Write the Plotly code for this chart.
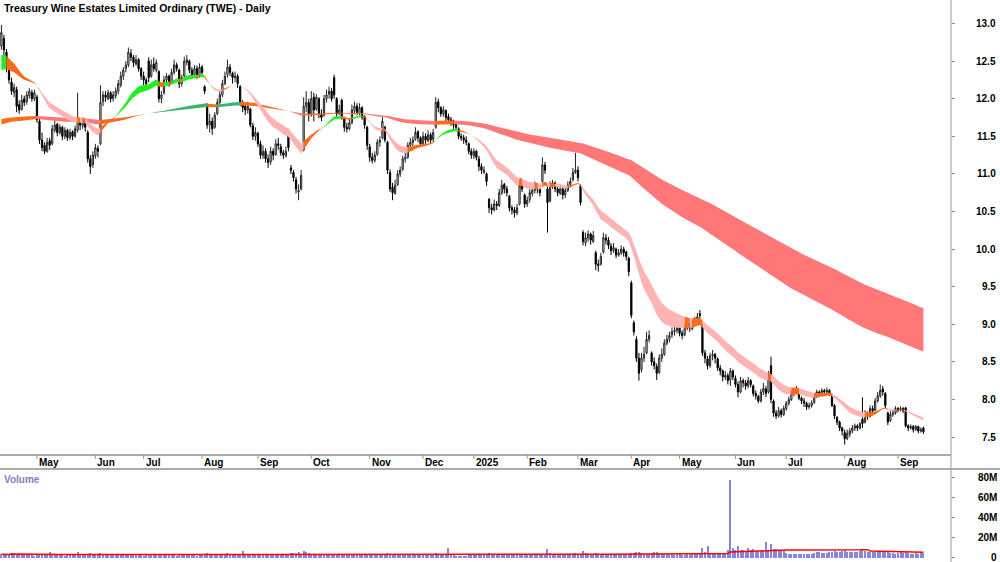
import numpy as np
import pandas as pd
import plotly.graph_objects as go

# ---------------- data ----------------
title_text = "Treasury Wine Estates Limited Ordinary (TWE) - Daily"
start_date = "2024-04-10"
end_date = "2025-09-15"
asx_holidays = ["2024-04-25", "2024-06-10", "2024-12-25", "2024-12-26", "2025-01-01",
                "2025-01-27", "2025-04-18", "2025-04-21", "2025-04-25", "2025-06-09"]

opens = [
    12.70, 12.80, 12.62, 12.38, 12.22, 12.08, 12.12, 11.92, 11.86, 12.00,
    11.96, 12.04, 12.08, 12.00, 12.02, 11.70, 11.45, 11.38, 11.30, 11.44,
    11.40, 11.58, 11.66, 11.55, 11.62, 11.50, 11.58, 11.48, 11.56, 11.50,
    11.58, 11.70, 11.64, 11.70, 11.55, 11.20, 11.12, 11.24, 11.34, 11.40,
    11.96, 12.05, 12.00, 12.08, 12.00, 12.04, 12.10, 12.18, 12.30, 12.40,
    12.45, 12.60, 12.55, 12.46, 12.52, 12.40, 12.30, 12.25, 12.50, 12.30,
    12.46, 12.38, 12.36, 12.00, 12.08, 12.25, 12.30, 12.22, 12.35, 12.45,
    12.38, 12.20, 12.30, 12.48, 12.50, 12.38, 12.32, 12.40, 12.30, 12.42,
    12.16, 11.92, 11.65, 11.70, 11.62, 11.80, 11.95, 12.05, 12.20, 12.32,
    12.42, 12.34, 12.28, 12.30, 12.16, 11.94, 11.90, 11.85, 11.86, 11.64,
    11.50, 11.54, 11.40, 11.24, 11.30, 11.20, 11.16, 11.30, 11.26, 11.40,
    11.36, 11.28, 11.24, 11.56, 11.08, 11.02, 10.92, 10.76, 10.80, 11.32,
    11.90, 11.95, 11.80, 12.02, 11.86, 12.00, 11.80, 11.78, 12.00, 12.06,
    12.10, 12.28, 12.00, 11.80, 11.98, 11.74, 11.62, 11.60, 11.68, 11.84,
    11.90, 11.80, 11.88, 11.76, 11.62, 11.36, 11.22, 11.18, 11.26, 11.42,
    11.48, 11.62, 11.42, 11.02, 10.82, 10.74, 10.86, 11.00, 11.06, 11.20,
    11.22, 11.38, 11.42, 11.46, 11.56, 11.48, 11.40, 11.50, 11.44, 11.52,
    11.46, 11.62, 11.96, 11.88, 11.80, 11.84, 11.76, 11.72, 11.68, 11.66,
    11.60, 11.50, 11.48, 11.45, 11.40, 11.30, 11.24, 11.30, 11.20, 11.10,
    11.02, 11.00, 10.66, 10.55, 10.52, 10.60, 10.58, 10.75, 10.86, 10.80,
    10.70, 10.55, 10.52, 10.48, 10.60, 10.86, 10.72, 10.60, 10.66, 10.74,
    10.78, 10.84, 10.80, 10.90, 11.12, 10.80, 10.64, 10.85, 10.88, 10.80,
    10.74, 10.80, 10.72, 10.78, 10.86, 10.92, 11.02, 11.05, 10.84, 10.22,
    10.08, 10.15, 10.20, 10.10, 9.95, 9.80, 9.80, 9.96, 10.15, 10.12,
    10.04, 9.98, 10.00, 9.92, 9.95, 10.00, 9.96, 9.88, 9.55, 9.02,
    8.80, 8.55, 8.40, 8.55, 8.62, 8.80, 8.62, 8.50, 8.44, 8.36,
    8.55, 8.60, 8.75, 8.80, 8.86, 8.90, 8.92, 8.95, 8.88, 8.86,
    8.95, 9.00, 8.94, 9.02, 9.05, 9.14, 8.98, 8.62, 8.54, 8.45,
    8.58, 8.60, 8.54, 8.42, 8.38, 8.30, 8.32, 8.26, 8.38, 8.28,
    8.20, 8.10, 8.25, 8.22, 8.18, 8.25, 8.18, 8.08, 8.04, 7.98,
    8.10, 8.14, 8.10, 8.45, 7.98, 7.82, 7.78, 7.85, 7.80, 7.88,
    7.95, 8.00, 8.08, 8.10, 8.12, 8.02, 7.98, 7.95, 7.90, 7.92,
    7.96, 8.05, 8.10, 8.08, 8.12, 8.10, 8.12, 8.06, 7.92, 7.76,
    7.70, 7.62, 7.56, 7.48, 7.54, 7.58, 7.62, 7.65, 7.62, 7.74,
    7.70, 7.80, 7.78, 7.88, 7.86, 7.98, 8.05, 8.14, 8.08, 7.82,
    7.72, 7.80, 7.82, 7.88, 7.86, 7.88, 7.89, 7.65, 7.62, 7.64,
    7.60, 7.64, 7.58, 7.62,
]

highs = [
    12.98, 12.85, 12.66, 12.45, 12.28, 12.20, 12.16, 11.98, 12.05, 12.04,
    12.10, 12.14, 12.12, 12.12, 12.05, 11.74, 11.55, 11.42, 11.48, 11.48,
    11.65, 11.72, 11.68, 11.66, 11.64, 11.62, 11.60, 11.60, 11.58, 11.64,
    12.08, 11.74, 11.75, 11.72, 11.58, 11.25, 11.30, 11.40, 11.38, 12.18,
    12.10, 12.10, 12.12, 12.10, 12.10, 12.15, 12.25, 12.36, 12.42, 12.50,
    12.68, 12.66, 12.58, 12.58, 12.54, 12.42, 12.36, 12.28, 12.55, 12.52,
    12.55, 12.52, 12.38, 12.10, 12.30, 12.34, 12.32, 12.40, 12.52, 12.48,
    12.40, 12.32, 12.56, 12.58, 12.52, 12.42, 12.45, 12.44, 12.47, 12.45,
    12.18, 11.94, 11.80, 11.75, 11.82, 12.00, 12.10, 12.25, 12.36, 12.52,
    12.46, 12.36, 12.36, 12.33, 12.18, 11.98, 11.94, 11.96, 11.88, 11.68,
    11.62, 11.56, 11.44, 11.38, 11.34, 11.26, 11.36, 11.34, 11.46, 11.48,
    11.40, 11.32, 11.36, 11.60, 11.12, 11.05, 10.96, 10.86, 11.05, 12.02,
    12.10, 12.00, 12.10, 12.08, 12.06, 12.02, 11.86, 12.05, 12.12, 12.16,
    12.14, 12.32, 12.02, 11.92, 12.00, 11.76, 11.68, 11.74, 11.92, 11.96,
    11.94, 11.94, 11.90, 11.78, 11.64, 11.40, 11.28, 11.30, 11.46, 11.50,
    11.76, 11.64, 11.44, 11.06, 10.88, 10.92, 11.05, 11.10, 11.24, 11.28,
    11.42, 11.48, 11.50, 11.62, 11.58, 11.50, 11.56, 11.54, 11.58, 11.55,
    11.60, 12.02, 12.00, 11.90, 11.90, 11.86, 11.80, 11.76, 11.72, 11.70,
    11.62, 11.54, 11.52, 11.50, 11.42, 11.34, 11.34, 11.32, 11.24, 11.14,
    11.10, 11.02, 10.68, 10.60, 10.66, 10.64, 10.80, 10.92, 10.88, 10.84,
    10.72, 10.58, 10.56, 10.60, 10.92, 10.90, 10.74, 10.70, 10.80, 10.84,
    10.90, 10.88, 10.84, 11.22, 11.16, 10.84, 10.90, 10.92, 10.90, 10.84,
    10.86, 10.82, 10.82, 10.90, 10.95, 11.08, 11.28, 11.10, 10.86, 10.25,
    10.22, 10.25, 10.22, 10.24, 9.98, 9.86, 9.95, 10.22, 10.20, 10.16,
    10.08, 10.08, 10.02, 10.00, 10.05, 10.03, 9.98, 9.90, 9.58, 9.05,
    8.84, 8.62, 8.62, 8.70, 8.90, 8.92, 8.64, 8.56, 8.48, 8.60,
    8.68, 8.80, 8.86, 8.90, 8.96, 8.98, 9.02, 8.98, 8.92, 9.00,
    9.06, 9.02, 9.06, 9.10, 9.15, 9.19, 9.00, 8.66, 8.58, 8.62,
    8.66, 8.62, 8.56, 8.46, 8.40, 8.38, 8.35, 8.42, 8.40, 8.32,
    8.24, 8.30, 8.28, 8.26, 8.30, 8.27, 8.20, 8.12, 8.06, 8.14,
    8.22, 8.18, 8.38, 8.57, 8.00, 7.86, 7.90, 7.88, 7.92, 7.98,
    8.04, 8.12, 8.14, 8.18, 8.14, 8.04, 8.02, 7.97, 7.96, 7.99,
    8.08, 8.13, 8.12, 8.15, 8.14, 8.16, 8.14, 8.08, 7.94, 7.78,
    7.72, 7.64, 7.60, 7.60, 7.62, 7.66, 7.68, 7.67, 7.70, 8.03,
    7.86, 7.84, 7.92, 7.92, 8.02, 8.10, 8.20, 8.18, 8.10, 7.84,
    7.85, 7.86, 7.91, 7.90, 7.91, 7.90, 7.90, 7.67, 7.67, 7.66,
    7.66, 7.65, 7.63, 7.64,
]

lows = [
    12.65, 12.58, 12.35, 12.20, 12.05, 12.02, 11.82, 11.80, 11.84, 11.90,
    11.92, 12.00, 11.96, 11.97, 11.68, 11.40, 11.30, 11.26, 11.28, 11.32,
    11.38, 11.55, 11.50, 11.52, 11.45, 11.46, 11.44, 11.45, 11.45, 11.48,
    11.55, 11.58, 11.60, 11.56, 11.15, 11.00, 11.08, 11.20, 11.22, 11.38,
    11.90, 11.96, 11.98, 11.95, 11.96, 12.00, 12.06, 12.15, 12.25, 12.35,
    12.42, 12.50, 12.42, 12.44, 12.36, 12.25, 12.18, 12.15, 12.22, 12.28,
    12.36, 12.35, 11.95, 11.94, 12.05, 12.20, 12.16, 12.20, 12.32, 12.36,
    12.14, 12.16, 12.28, 12.44, 12.34, 12.26, 12.30, 12.26, 12.28, 12.30,
    12.06, 11.60, 11.55, 11.52, 11.60, 11.78, 11.92, 12.02, 12.18, 12.28,
    12.30, 12.20, 12.22, 12.14, 11.90, 11.82, 11.78, 11.80, 11.62, 11.45,
    11.44, 11.36, 11.20, 11.20, 11.15, 11.08, 11.12, 11.18, 11.24, 11.32,
    11.24, 11.20, 11.22, 11.30, 11.00, 10.90, 10.74, 10.65, 10.78, 11.30,
    11.82, 11.70, 11.76, 11.70, 11.84, 11.74, 11.70, 11.76, 11.95, 12.00,
    11.96, 12.00, 11.76, 11.78, 11.72, 11.56, 11.55, 11.58, 11.66, 11.80,
    11.78, 11.78, 11.72, 11.60, 11.32, 11.16, 11.14, 11.15, 11.24, 11.36,
    11.46, 11.42, 11.00, 10.76, 10.65, 10.72, 10.84, 10.96, 11.04, 11.15,
    11.20, 11.34, 11.36, 11.44, 11.42, 11.36, 11.38, 11.40, 11.42, 11.40,
    11.42, 11.60, 11.82, 11.76, 11.76, 11.70, 11.68, 11.64, 11.60, 11.58,
    11.46, 11.44, 11.40, 11.38, 11.26, 11.20, 11.20, 11.18, 11.04, 11.00,
    11.00, 10.84, 10.48, 10.46, 10.50, 10.52, 10.56, 10.72, 10.74, 10.70,
    10.50, 10.46, 10.42, 10.45, 10.58, 10.76, 10.55, 10.56, 10.62, 10.70,
    10.74, 10.74, 10.70, 10.88, 11.00, 10.22, 10.62, 10.80, 10.76, 10.70,
    10.72, 10.66, 10.68, 10.76, 10.82, 10.90, 11.00, 10.90, 10.58, 10.05,
    10.04, 10.10, 10.06, 10.08, 9.72, 9.70, 9.78, 9.94, 10.06, 10.00,
    9.92, 9.95, 9.88, 9.90, 9.92, 9.90, 9.85, 9.64, 9.08, 8.85,
    8.50, 8.25, 8.36, 8.50, 8.60, 8.76, 8.45, 8.40, 8.26, 8.34,
    8.50, 8.58, 8.72, 8.76, 8.82, 8.85, 8.88, 8.84, 8.80, 8.84,
    8.92, 8.90, 8.92, 8.98, 9.02, 9.06, 8.58, 8.48, 8.40, 8.42,
    8.52, 8.48, 8.38, 8.32, 8.24, 8.26, 8.20, 8.18, 8.26, 8.16,
    8.03, 8.08, 8.16, 8.13, 8.15, 8.16, 8.04, 8.00, 7.95, 7.96,
    8.06, 8.03, 8.08, 7.95, 7.77, 7.74, 7.76, 7.76, 7.78, 7.85,
    7.92, 7.98, 8.04, 8.07, 7.99, 7.94, 7.90, 7.86, 7.87, 7.89,
    7.94, 8.02, 8.04, 8.06, 8.06, 8.08, 8.05, 7.90, 7.74, 7.66,
    7.58, 7.52, 7.40, 7.46, 7.50, 7.55, 7.58, 7.58, 7.60, 7.62,
    7.68, 7.73, 7.76, 7.82, 7.84, 7.96, 8.02, 8.05, 7.88, 7.66,
    7.70, 7.77, 7.80, 7.83, 7.84, 7.82, 7.63, 7.58, 7.60, 7.56,
    7.58, 7.55, 7.56, 7.54,
]

closes = [
    12.88, 12.65, 12.40, 12.25, 12.10, 12.15, 11.90, 11.85, 11.98, 11.95,
    12.05, 12.10, 12.00, 12.08, 11.72, 11.45, 11.35, 11.30, 11.42, 11.38,
    11.60, 11.65, 11.55, 11.62, 11.50, 11.58, 11.48, 11.55, 11.50, 11.60,
    11.70, 11.65, 11.70, 11.62, 11.20, 11.10, 11.25, 11.35, 11.30, 11.95,
    12.05, 12.02, 12.08, 12.00, 12.05, 12.10, 12.20, 12.30, 12.38, 12.45,
    12.62, 12.55, 12.48, 12.52, 12.40, 12.30, 12.25, 12.20, 12.28, 12.45,
    12.40, 12.48, 12.00, 12.05, 12.25, 12.30, 12.22, 12.35, 12.45, 12.40,
    12.20, 12.28, 12.50, 12.52, 12.38, 12.32, 12.40, 12.30, 12.42, 12.35,
    12.10, 11.65, 11.70, 11.60, 11.78, 11.95, 12.05, 12.20, 12.30, 12.42,
    12.35, 12.28, 12.30, 12.20, 11.95, 11.88, 11.85, 11.90, 11.65, 11.50,
    11.55, 11.40, 11.25, 11.30, 11.20, 11.15, 11.30, 11.25, 11.40, 11.38,
    11.28, 11.25, 11.30, 11.35, 11.05, 10.95, 10.80, 10.78, 10.98, 11.90,
    11.95, 11.80, 12.00, 11.85, 12.02, 11.80, 11.75, 12.00, 12.05, 12.10,
    12.00, 12.05, 11.80, 11.85, 11.75, 11.62, 11.60, 11.68, 11.85, 11.90,
    11.82, 11.88, 11.75, 11.65, 11.38, 11.22, 11.18, 11.25, 11.42, 11.45,
    11.70, 11.45, 11.05, 10.80, 10.75, 10.85, 11.00, 11.05, 11.20, 11.22,
    11.38, 11.42, 11.45, 11.55, 11.48, 11.40, 11.50, 11.45, 11.52, 11.45,
    11.55, 11.95, 11.88, 11.80, 11.85, 11.75, 11.72, 11.68, 11.65, 11.62,
    11.50, 11.48, 11.45, 11.42, 11.30, 11.25, 11.30, 11.22, 11.10, 11.05,
    11.05, 10.90, 10.55, 10.52, 10.60, 10.58, 10.75, 10.85, 10.80, 10.75,
    10.55, 10.52, 10.48, 10.55, 10.85, 10.80, 10.60, 10.65, 10.75, 10.78,
    10.85, 10.80, 10.75, 11.12, 11.05, 10.62, 10.85, 10.88, 10.80, 10.75,
    10.80, 10.72, 10.78, 10.85, 10.90, 11.02, 11.05, 10.95, 10.62, 10.10,
    10.15, 10.20, 10.12, 10.18, 9.80, 9.78, 9.90, 10.15, 10.12, 10.05,
    9.98, 10.02, 9.92, 9.95, 10.00, 9.95, 9.90, 9.70, 9.12, 8.90,
    8.55, 8.35, 8.55, 8.60, 8.80, 8.85, 8.50, 8.45, 8.35, 8.55,
    8.60, 8.75, 8.80, 8.85, 8.90, 8.92, 8.95, 8.88, 8.85, 8.95,
    9.00, 8.95, 9.02, 9.05, 9.10, 9.12, 8.62, 8.55, 8.45, 8.58,
    8.60, 8.55, 8.42, 8.38, 8.30, 8.32, 8.25, 8.38, 8.30, 8.20,
    8.10, 8.25, 8.22, 8.18, 8.25, 8.20, 8.08, 8.05, 7.98, 8.10,
    8.15, 8.08, 8.30, 8.00, 7.82, 7.78, 7.85, 7.80, 7.88, 7.95,
    8.00, 8.08, 8.10, 8.15, 8.02, 7.98, 7.95, 7.90, 7.92, 7.95,
    8.05, 8.10, 8.08, 8.12, 8.10, 8.12, 8.08, 7.92, 7.78, 7.70,
    7.62, 7.58, 7.48, 7.55, 7.58, 7.62, 7.65, 7.62, 7.68, 7.68,
    7.80, 7.78, 7.88, 7.85, 7.98, 8.05, 8.12, 8.10, 7.92, 7.70,
    7.80, 7.82, 7.88, 7.86, 7.88, 7.85, 7.65, 7.62, 7.64, 7.60,
    7.64, 7.58, 7.60, 7.57,
]

volumes_m = [
    3.2, 2.8, 3.5, 2.9, 5.0, 3.1, 2.6, 2.4, 2.2, 2.7,
    2.5, 2.1, 2.3, 2.0, 3.8, 3.4, 2.9, 2.6, 2.2, 6.0,
    2.8, 2.4, 2.1, 2.5, 2.3, 2.0, 2.2, 2.6, 2.4, 2.3,
    6.0, 3.0, 2.5, 2.2, 3.9, 4.2, 2.8, 2.6, 2.4, 5.0,
    3.4, 2.6, 2.3, 2.1, 2.5, 2.4, 2.2, 2.6, 2.8, 2.7,
    3.1, 2.5, 2.3, 2.2, 2.4, 2.1, 2.0, 2.3, 2.6, 2.4,
    2.2, 2.5, 3.3, 2.7, 2.4, 2.1, 2.2, 2.3, 2.5, 2.0,
    2.6, 2.4, 2.7, 2.5, 2.2, 2.1, 2.3, 2.0, 2.4, 2.6,
    3.5, 4.4, 3.0, 2.6, 2.5, 2.8, 2.6, 2.4, 2.7, 5.0,
    3.0, 2.5, 2.3, 2.4, 3.1, 7.0, 2.9, 2.5, 3.4, 3.0,
    2.6, 2.8, 3.0, 2.5, 2.6, 2.7, 2.4, 2.3, 2.5, 2.2,
    2.3, 2.4, 2.6, 3.6, 4.5, 5.0, 4.2, 5.5, 4.0, 7.0,
    6.0, 4.5, 3.6, 3.2, 2.9, 3.0, 2.7, 3.1, 2.8, 2.6,
    2.5, 3.4, 3.0, 2.6, 2.8, 2.7, 2.4, 2.3, 2.6, 2.5,
    2.2, 2.4, 2.6, 2.5, 3.5, 3.3, 2.7, 2.5, 2.8, 2.6,
    3.0, 3.4, 4.5, 3.6, 3.2, 2.9, 2.7, 2.6, 2.8, 2.5,
    2.7, 2.6, 2.9, 3.0, 2.5, 2.4, 2.6, 2.8, 2.5, 2.3,
    2.6, 4.2, 3.0, 2.7, 2.6, 2.8, 10.0, 2.4, 2.2, 1.8,
    2.0, 1.6, 1.4, 1.9, 2.3, 2.5, 2.2, 2.4, 2.8, 2.6,
    2.7, 3.5, 4.8, 3.6, 3.0, 2.8, 3.1, 2.9, 2.6, 2.7,
    3.0, 2.9, 2.8, 2.6, 3.2, 2.8, 3.0, 2.7, 2.6, 2.9,
    2.8, 2.7, 3.0, 4.0, 3.5, 9.0, 5.0, 3.6, 3.0, 2.8,
    2.7, 2.6, 2.9, 2.8, 3.0, 3.2, 5.0, 3.4, 4.0, 7.0,
    4.5, 3.6, 3.2, 3.0, 4.2, 3.8, 3.3, 3.5, 3.0, 3.1,
    2.9, 3.2, 3.0, 2.8, 3.0, 2.9, 3.1, 3.6, 4.5, 5.0,
    6.0, 5.5, 4.5, 3.8, 3.6, 3.5, 4.2, 6.0, 6.0, 4.0,
    3.6, 3.4, 3.2, 3.0, 3.1, 2.9, 3.0, 3.2, 2.8, 3.0,
    3.1, 2.9, 3.3, 3.5, 3.6, 4.5, 10.0, 5.5, 11.5, 5.0,
    4.5, 4.0, 4.2, 3.8, 4.6, 5.0, 8.0, 78.0, 10.0, 7.5,
    12.0, 8.0, 7.5, 7.0, 10.0, 7.5, 8.5, 7.0, 6.5, 7.2,
    6.8, 16.0, 8.0, 14.0, 9.0, 8.5, 7.5, 7.0, 6.5, 5.0,
    4.0, 3.6, 3.5, 3.8, 4.0, 3.6, 3.4, 3.5, 3.7, 4.0,
    5.0, 5.2, 5.5, 5.0, 4.6, 5.0, 5.2, 6.0, 6.5, 5.6,
    6.0, 6.5, 7.5, 6.0, 5.4, 5.2, 5.6, 6.0, 6.5, 8.5,
    7.0, 6.0, 5.4, 5.2, 5.8, 6.2, 6.0, 5.2, 6.8, 5.8,
    4.6, 4.3, 4.0, 4.4, 6.0, 4.5, 5.2, 4.2, 4.0, 3.8,
    4.2, 3.9, 6.0, 4.5,
]

price_ticks = [7.5, 8.0, 8.5, 9.0, 9.5, 10.0, 10.5, 11.0, 11.5, 12.0, 12.5, 13.0]
price_tick_labels = ["7.5", "8.0", "8.5", "9.0", "9.5", "10.0", "10.5", "11.0",
                     "11.5", "12.0", "12.5", "13.0"]
volume_ticks = [0, 20, 40, 60, 80]
volume_tick_labels = ["0", "20M", "40M", "60M", "80M"]

# indicator settings (ribbons = pairs of EMAs, seeded with values read at the left edge)
short_periods = (21, 30)
short_seeds = (12.55, 12.34)
long_periods = (148, 230)
long_seeds = (11.64, 11.72)
volume_ma_window = 55

short_colors = {"G": "#22ee22", "O": "#ff6a1a", "R": "#ffb3b3"}
long_colors = {"G": "#3cb371", "O": "#ff6a1a", "R": "#ff7777"}

# ---------------- build ----------------
W, H = 1000, 562
dates = pd.bdate_range(start_date, end_date)
dates = dates[~dates.isin(pd.to_datetime(asx_holidays))]
n = min(len(dates), len(closes), len(opens), len(highs), len(lows), len(volumes_m))
dates = dates[:n]
xs = np.arange(n)
c = np.array(closes[:n])


def ema(values, period, seed):
    a = 2.0 / (period + 1)
    out = []
    prev = seed
    for v in values:
        prev = prev + a * (v - prev)
        out.append(prev)
    return np.array(out)


def band_traces(fast, slow, seeds, colors, xaxis, yaxis):
    states = []
    pf, ps = seeds
    for i in range(n):
        up = fast[i] > slow[i]
        fr = fast[i] >= pf
        sr = slow[i] >= ps
        if up and fr and sr:
            states.append("G")
        elif (not up) and (not fr) and (not sr):
            states.append("R")
        else:
            states.append("O")
        pf, ps = fast[i], slow[i]
    upper = np.maximum(fast, slow)
    lower = np.minimum(fast, slow)
    traces = []
    i = 0
    while i < n:
        j = i
        while j + 1 < n and states[j + 1] == states[i]:
            j += 1
        idx = list(range(i, min(j + 2, n)))
        col = colors[states[i]]
        traces.append(go.Scatter(x=idx, y=lower[idx], mode="lines", line=dict(width=0, color=col),
                                 hoverinfo="skip", showlegend=False, xaxis=xaxis, yaxis=yaxis))
        traces.append(go.Scatter(x=idx, y=upper[idx], mode="lines", line=dict(width=0, color=col),
                                 fill="tonexty", fillcolor=col, hoverinfo="skip",
                                 showlegend=False, xaxis=xaxis, yaxis=yaxis))
        i = j + 1
    return traces


long_f = ema(c, long_periods[0], long_seeds[0])
long_s = ema(c, long_periods[1], long_seeds[1])
short_f = ema(c, short_periods[0], short_seeds[0])
short_s = ema(c, short_periods[1], short_seeds[1])

fig = go.Figure()
for t in band_traces(long_f, long_s, long_seeds, long_colors, "x", "y"):
    fig.add_trace(t)
for t in band_traces(short_f, short_s, short_seeds, short_colors, "x", "y"):
    fig.add_trace(t)

fig.add_trace(go.Candlestick(
    x=xs, open=opens[:n], high=highs[:n], low=lows[:n], close=closes[:n],
    increasing=dict(line=dict(color="#222222", width=1), fillcolor="#ffffff"),
    decreasing=dict(line=dict(color="#000000", width=1), fillcolor="#000000"),
    whiskerwidth=0, showlegend=False, xaxis="x", yaxis="y"))

vol = np.array(volumes_m[:n])
fig.add_trace(go.Bar(x=xs, y=vol, width=0.4, marker=dict(color="#8686dc", line=dict(width=0)),
                     showlegend=False, xaxis="x2", yaxis="y2"))
vol_ma = pd.Series(vol).rolling(volume_ma_window, min_periods=1).mean()
fig.add_trace(go.Scatter(x=xs, y=vol_ma, mode="lines", line=dict(color="#ff0000", width=1.5),
                         showlegend=False, xaxis="x2", yaxis="y2"))

# pixel geometry
plot_right = 951 / W
price_bottom_px = 455
band_bottom_px = 469
vol_top_px = 470
px_per_day = 2.54
x0_px = 1.4
x_range = [(0 - x0_px) / px_per_day, (951 - x0_px) / px_per_day]
y_top_val = 13.0 + 23.5 / 75.2
y_bot_val = 7.5 - (price_bottom_px - 437.1) / 75.2

axis_common = dict(showgrid=False, zeroline=False, showticklabels=False)
fig.update_layout(
    width=W, height=H, margin=dict(l=0, r=0, t=0, b=0),
    paper_bgcolor="white", plot_bgcolor="white", showlegend=False,
    font=dict(family="Arial, Liberation Sans, sans-serif", color="#000"),
    xaxis=dict(domain=[0, plot_right], range=x_range, anchor="y", rangeslider=dict(visible=False),
               ticks="", showline=False, **axis_common),
    xaxis2=dict(domain=[0, plot_right], range=x_range, anchor="y2", matches="x",
                ticks="", showline=False, **axis_common),
    yaxis=dict(domain=[1 - price_bottom_px / H, 1], range=[y_bot_val, y_top_val], side="right",
               anchor="x", tickvals=price_ticks, ticks="outside", ticklen=3, tickcolor="#888",
               showline=False, **axis_common),
    yaxis2=dict(domain=[0, 1 - vol_top_px / H], range=[-4.5, 87.5], side="right",
                anchor="x2", tickvals=volume_ticks, ticks="outside", ticklen=3, tickcolor="#888",
                showline=False, **axis_common),
    bargap=0,
)

shapes = []
# frame lines
shapes.append(dict(type="line", xref="paper", yref="paper", x0=plot_right, x1=plot_right, y0=0, y1=1,
                   line=dict(color="#999999", width=1)))
shapes.append(dict(type="line", xref="paper", yref="paper", x0=0, x1=plot_right,
                   y0=1 - price_bottom_px / H, y1=1 - price_bottom_px / H,
                   line=dict(color="#aaaaaa", width=2)))
shapes.append(dict(type="line", xref="paper", yref="paper", x0=0, x1=1,
                   y0=1 - band_bottom_px / H, y1=1 - band_bottom_px / H,
                   line=dict(color="#aaaaaa", width=2)))

annotations = []
annotations.append(dict(text="<b>" + title_text + "</b>", xref="paper", yref="paper",
                        x=2 / W, y=1 - 8 / H, xanchor="left", yanchor="middle", showarrow=False,
                        font=dict(size=10.5, color="#000")))
annotations.append(dict(text="<b>Volume</b>", xref="paper", yref="paper",
                        x=2 / W, y=1 - 479 / H, xanchor="left", yanchor="middle", showarrow=False,
                        font=dict(size=10, color="#8080c0")))

for v, lab in zip(price_ticks, price_tick_labels):
    annotations.append(dict(text="<b>" + lab + "</b>", xref="paper", yref="y", x=998 / W, y=v,
                            xanchor="right", yanchor="middle", showarrow=False,
                            font=dict(size=10, color="#000")))
for v, lab in zip(volume_ticks, volume_tick_labels):
    annotations.append(dict(text="<b>" + lab + "</b>", xref="paper", yref="y2", x=999 / W, y=v,
                            xanchor="right", yanchor="middle", showarrow=False,
                            font=dict(size=10, color="#000")))

# month labels at first trading day of each month
for i in range(1, n):
    if dates[i].month != dates[i - 1].month:
        lab = str(dates[i].year) if dates[i].month == 1 else dates[i].strftime("%b")
        annotations.append(dict(text="<b>" + lab + "</b>", xref="x", yref="paper", x=i,
                                y=1 - 462.5 / H, xanchor="left", yanchor="middle", xshift=0,
                                showarrow=False, font=dict(size=10, color="#000")))
        shapes.append(dict(type="line", xref="x", yref="paper", x0=i, x1=i,
                           y0=1 - price_bottom_px / H, y1=1 - (price_bottom_px + 4) / H,
                           line=dict(color="#999999", width=1)))

fig.update_layout(shapes=shapes, annotations=annotations)
fig.write_html("out.html")
